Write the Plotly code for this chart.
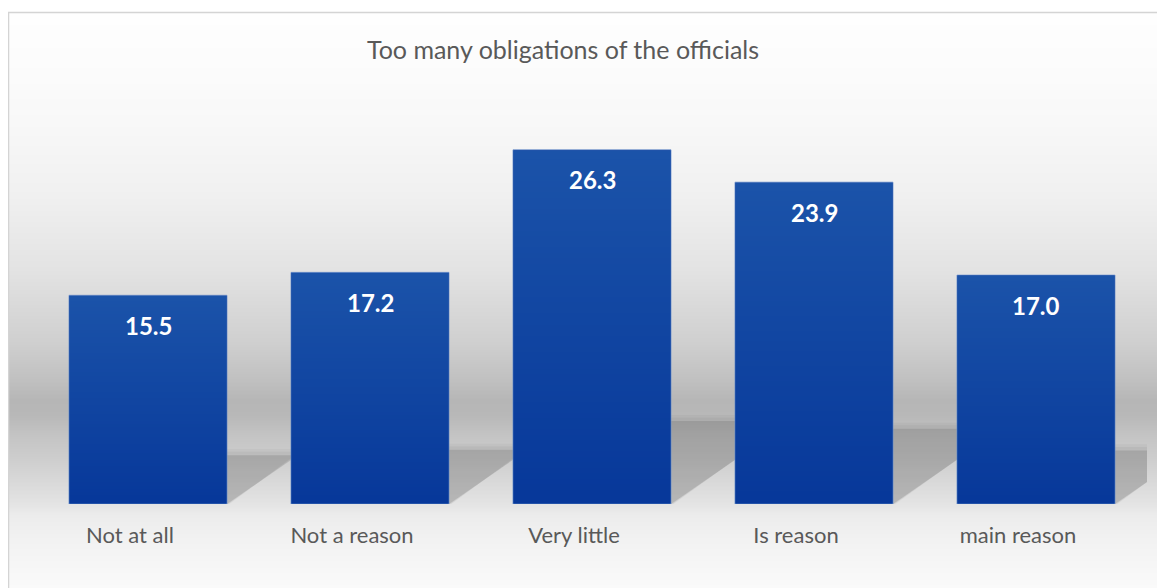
import base64, struct, zlib
import numpy as np
import plotly.graph_objects as go

# ---- data ----
categories = ["Not at all", "Not a reason", "Very little", "Is reason", "main reason"]
values = [15.5, 17.2, 26.3, 23.9, 17.0]
value_labels = ["15.5", "17.2", "26.3", "23.9", "17.0"]
title_text = "Too many obligations of the officials"

# ---- geometry (pixels) ----
OFF = 8                      # page body margin in the browser
W, H = 1165 - OFF, 588 - OFF
L, R, T, B = 37 - OFF, 18, 100 - OFF, 84
PW, PH = W - L - R, H - T - B
BAR_W = 0.712


def sx(px):  # screenshot x -> paper x
    return (px - OFF - L) / PW


def sy(py):  # screenshot y -> paper y
    return (H - B - (py - OFF)) / PH


def chunk(t, d):
    return struct.pack(">I", len(d)) + t + d + struct.pack(">I", zlib.crc32(t + d) & 0xFFFFFFFF)


def png(width, rows_rgb):
    raw = b"".join(b"\x00" + bytes(list(rgb) * width) for rgb in rows_rgb)
    ihdr = struct.pack(">IIBBBBB", width, len(rows_rgb), 8, 2, 0, 0, 0)
    return (b"\x89PNG\r\n\x1a\n" + chunk(b"IHDR", ihdr)
            + chunk(b"IDAT", zlib.compress(raw)) + chunk(b"IEND", b""))


def data_uri(b):
    return "data:image/png;base64," + base64.b64encode(b).decode()


# ---- background gradient ----
stops_y = [12, 60, 122, 196, 269, 343, 380, 400, 415, 435, 455, 480, 504, 515, 540, 588]
stops_g = [254, 252, 248, 240, 227, 207, 192, 182, 184, 196, 204, 216, 228, 236, 242, 250]
rows_g = np.interp(np.arange(12, 588), stops_y, stops_g).round().astype(int)
bg_src = data_uri(png(4, [(g, g, g) for g in rows_g]))

# ---- bar fill gradient (top lighter, bottom darker) ----
top_rgb = np.array([0x1b, 0x53, 0xa9])
bot_rgb = np.array([0x07, 0x38, 0x9a])
t = np.linspace(0, 1, 64)[:, None]
bar_rows = (top_rgb * (1 - t) + bot_rgb * t).round().astype(int)
bar_src = data_uri(png(2, [tuple(r) for r in bar_rows]))

x_pos = list(range(len(categories)))

fig = go.Figure()
fig.add_trace(go.Bar(
    x=x_pos, y=values, width=BAR_W,
    marker=dict(color="#11449f", line=dict(color="rgba(110,145,205,0.7)", width=1)),
    hoverinfo="skip",
))

# soft floor shadows to the right of each bar (derived from data)
shapes = []
for i, v in zip(x_pos, values):
    xr = i + BAR_W / 2
    h = 0.234 * v
    dx = 0.0206 * v
    for grow, alpha in [(0.45, 0.06), (0.25, 0.08), (0.0, 0.20)]:
        shapes.append(dict(
            type="path", xref="x", yref="y", layer="below",
            path=(f"M {xr},{-grow * 0.3} L {xr},{h + grow} "
                  f"L {xr + dx + grow * 0.05},{h + grow} Z"),
            fillcolor=f"rgba(85,85,85,{alpha})", line=dict(width=0),
        ))

# chart border
shapes.append(dict(
    type="rect", xref="paper", yref="paper", layer="above",
    x0=sx(8.5), x1=sx(1185), y0=sy(610), y1=sy(12.5),
    line=dict(color="#d4d4d4", width=1.5), fillcolor="rgba(0,0,0,0)",
))

images = [dict(
    source=bg_src, xref="paper", yref="paper",
    x=sx(8), y=sy(12),
    sizex=(1165 - 8) / PW, sizey=(588 - 12) / PH,
    xanchor="left", yanchor="top", sizing="stretch", layer="below",
)]
for i, v in zip(x_pos, values):
    images.append(dict(
        source=bar_src, xref="x", yref="y",
        x=i - BAR_W / 2 + 0.003, y=v - 0.05,
        sizex=BAR_W - 0.006, sizey=v - 0.1,
        xanchor="left", yanchor="top", sizing="stretch", layer="above",
    ))

annotations = []
for i, v, txt in zip(x_pos, values, value_labels):
    annotations.append(dict(
        x=i, y=v, xref="x", yref="y", text=txt, showarrow=False,
        yshift=-30, yanchor="middle",
        font=dict(family="Lato", size=24, color="white", weight="bold"),
    ))

fig.update_layout(
    width=W, height=H,
    margin=dict(l=L, r=R, t=T, b=B),
    paper_bgcolor="white",
    plot_bgcolor="rgba(0,0,0,0)",
    showlegend=False,
    title=dict(
        text=title_text, x=(563 - OFF) / W, xref="container", xanchor="center",
        y=1 - (50 - OFF) / H, yref="container", yanchor="middle",
        font=dict(family="Lato", size=25, color="#595959"),
    ),
    xaxis=dict(
        range=[-0.5, 4.5], tickvals=x_pos, ticktext=categories,
        showgrid=False, zeroline=False, showline=False, ticks="",
        tickfont=dict(family="Lato", size=22, color="#595959"),
        ticklabelshift=-18, ticklabelstandoff=16,
    ),
    yaxis=dict(
        range=[0, 30], showgrid=False, zeroline=False, showline=False,
        showticklabels=False, ticks="",
    ),
    images=images,
    shapes=shapes,
    annotations=annotations,
)

fig.write_html("out.html")
